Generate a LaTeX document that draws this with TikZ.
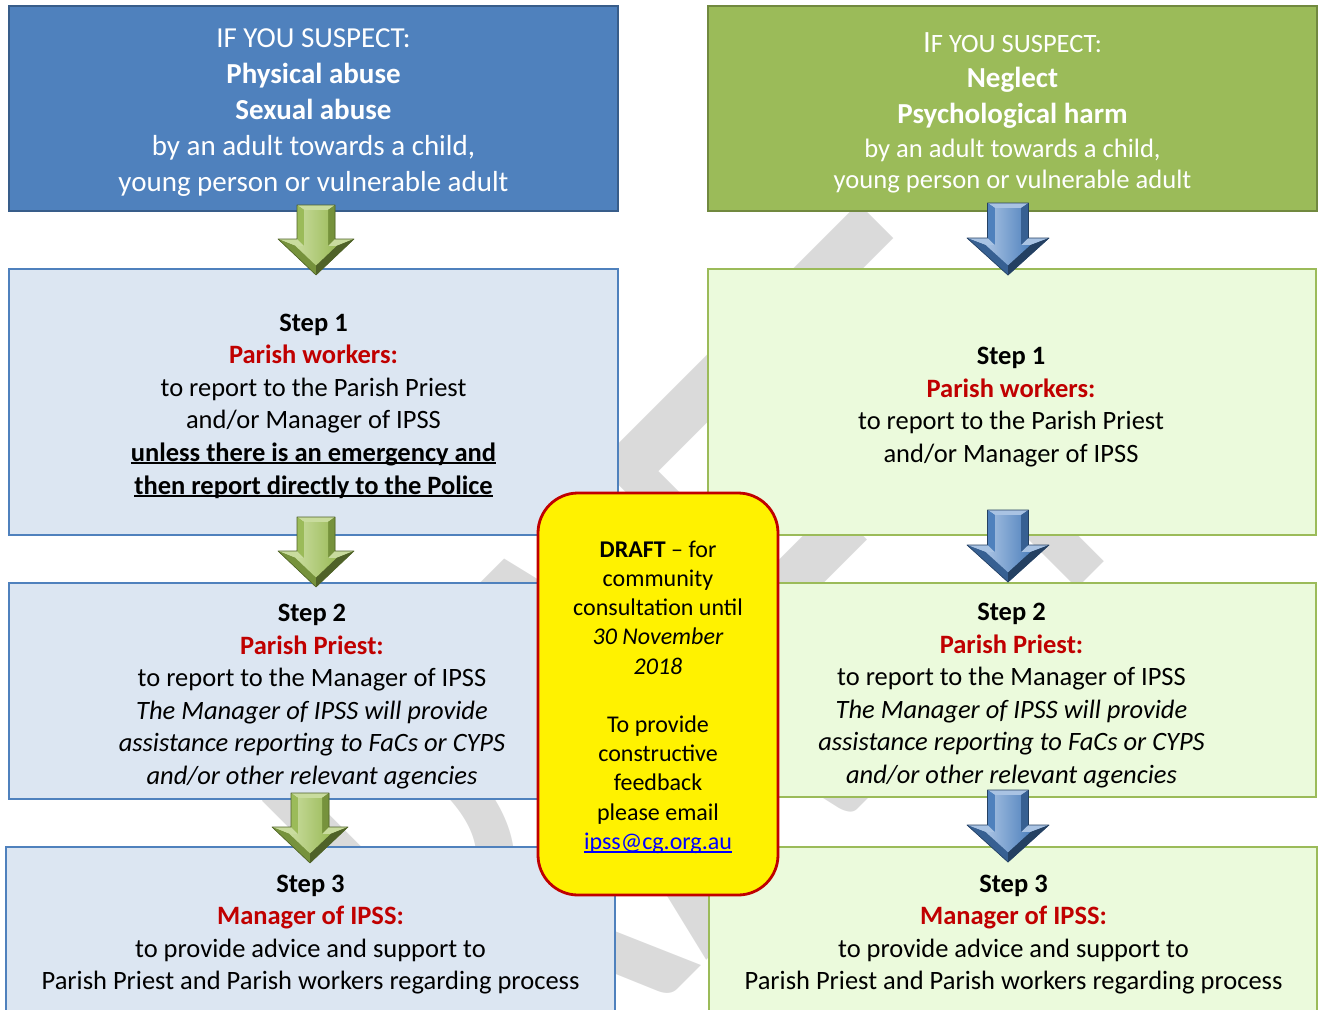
\documentclass[tikz,border=0pt]{standalone}
\usepackage{fontspec}
\setmainfont{Carlito}
\usepackage{graphicx}
\usetikzlibrary{calc}
\definecolor{tbfill}{HTML}{4F81BD}
\definecolor{tbdraw}{HTML}{385D8A}
\definecolor{tgfill}{HTML}{9BBB59}
\definecolor{tgdraw}{HTML}{71893F}
\definecolor{sbfill}{HTML}{DCE6F2}
\definecolor{sbdraw}{HTML}{4F81BD}
\definecolor{sgfill}{HTML}{EBFADC}
\definecolor{sgdraw}{HTML}{9BBB59}
\definecolor{stepred}{HTML}{C00000}
\definecolor{linkblue}{HTML}{0000FF}
\definecolor{wmgray}{RGB}{218,218,218}
\definecolor{gL}{HTML}{C9DC9E}
\definecolor{gM}{HTML}{9BBB59}
\definecolor{gD}{HTML}{76923C}
\definecolor{gDD}{HTML}{4F6228}
\definecolor{bL}{HTML}{A9C3E3}
\definecolor{bM}{HTML}{4F81BD}
\definecolor{bD}{HTML}{376092}
\definecolor{bDD}{HTML}{244062}
\newcommand\myul[2][0.11em]{\setbox0\hbox{#2}\rlap{\rule[-#1]{\wd0}{0.07em}}\box0}
\newcommand\blockarrowbody[4]{%
  \fill[#3] (-19,0) -- (19,0) -- (19,34) -- (38,34) -- (0,70) -- (-38,34) -- (-19,34) -- cycle;
  \fill[#1] (-19,0) -- (19,0) -- (12,5) -- (-12,5) -- cycle;
  \fill[#2] (-19,0) -- (-12,5) -- (-12,41) -- (-19,34) -- cycle;
  \fill[#3] (19,0) -- (19,34) -- (12,41) -- (12,5) -- cycle;
  \fill[#1] (-19,34) -- (-12,41) -- (-20.4,41) -- (-38,34) -- cycle;
  \fill[#1] (19,34) -- (38,34) -- (20.4,41) -- (12,41) -- cycle;
  \fill[#3] (-38,34) -- (-20.4,41) -- (0,60.4) -- (0,70) -- cycle;
  \fill[#4] (38,34) -- (0,70) -- (0,60.4) -- (20.4,41) -- cycle;
  \shade[left color=#1, right color=#2] (-12,5) -- (12,5) -- (12,41) -- (20.4,41) -- (0,60.4) -- (-20.4,41) -- (-12,41) -- cycle;
  \draw[#4, line width=0.6pt, line join=round] (-19,0) -- (19,0) -- (19,34) -- (38,34) -- (0,70) -- (-38,34) -- (-19,34) -- cycle;
}
\begin{document}
\begin{tikzpicture}[x=1pt,y=-1pt,
  box/.style={inner sep=0pt, outer sep=0pt, line width=2pt},
  titleblue/.style={box, fill=tbfill, draw=tbdraw, line width=2.5pt, minimum width=609pt, minimum height=205pt},
  titlegreen/.style={box, fill=tgfill, draw=tgdraw, line width=2.5pt, minimum width=609pt, minimum height=205pt},
  stepblue/.style={box, fill=sbfill, draw=sbdraw},
  stepgreen/.style={box, fill=sgfill, draw=sgdraw},
  draftbox/.style={box, fill=yellow, draw=stepred, line width=2.8pt, rounded corners=40pt, minimum width=240pt, minimum height=402pt},
  titletext/.style={inner sep=0pt, outer sep=0pt, text=white},
  steptext/.style={inner sep=0pt, outer sep=0pt, font=\fontsize{26.5}{32.6}\selectfont},
  drafttext/.style={inner sep=0pt, outer sep=0pt, font=\fontsize{24}{29.2}\selectfont},
  watermark/.style={inner sep=0pt, outer sep=0pt, text=wmgray, font=\fontsize{665}{665}\selectfont},
  greenarrow/.pic={\blockarrowbody{gL}{gM}{gD}{gDD}},
  bluearrow/.pic={\blockarrowbody{bL}{bM}{bD}{bDD}}
]
\useasboundingbox (0,0) rectangle (1319,1009);
\clip (0,0) rectangle (1319,1009);

% watermark
\node[watermark, rotate=45] (wm) at (610,755) {\scalebox{0.64}[1]{DRAFT}};

% boxes
\node[titleblue] (tl) at (313.5,108.5) {};
\node[titlegreen] (tr) at (1012.5,108.5) {};
\node[stepblue, minimum width=609pt, minimum height=266pt] (sl1) at (313.5,402) {};
\node[stepgreen, minimum width=608pt, minimum height=266pt] (sr1) at (1012,402) {};
\node[stepblue, minimum width=609pt, minimum height=216pt] (sl2) at (313.5,691) {};
\node[stepgreen, minimum width=608pt, minimum height=214pt] (sr2) at (1012,690) {};
\node[stepblue, minimum width=609pt, minimum height=183pt] (sl3) at (310.5,938.5) {};
\node[stepgreen, minimum width=608pt, minimum height=183pt] (sr3) at (1013,938.5) {};

% texts
\node[titletext, font=\fontsize{29}{36}\selectfont] (tlt) at (313.5,111.8) {\begin{tabular}{@{}c@{}}
IF YOU SUSPECT:\\
\textbf{Physical abuse}\\
\textbf{Sexual abuse}\\
by an adult towards a child,\\
young person or vulnerable adult
\end{tabular}};
\node[titletext, font=\fontsize{26.6}{31}\selectfont] (trt) at (1012.5,114.5) {\begin{tabular}{@{}c@{}}
{\fontsize{31}{31}\selectfont I}{\fontsize{26.5}{31}\selectfont F YOU SUSPECT:}\\[4pt]
{\bfseries\fontsize{29}{31}\selectfont Neglect}\\[5pt]
{\bfseries\fontsize{29}{31}\selectfont Psychological harm}\\[3pt]
by an adult towards a child,\\
young person or vulnerable adult
\end{tabular}};
\node[steptext] (sl1t) at (313.5,406) {\begin{tabular}{@{}c@{}}
\textbf{Step 1}\\
\textcolor{stepred}{\textbf{Parish workers:}}\\
to report to the Parish Priest\\
and/or Manager of IPSS\\
\textbf{\myul{unless there is an emergency and}}\\
\textbf{\myul{then report directly to the Police}}
\end{tabular}};
\node[steptext] (sr1t) at (1011,406.8) {\begin{tabular}{@{}c@{}}
\textbf{Step 1}\\
\textcolor{stepred}{\textbf{Parish workers:}}\\
to report to the Parish Priest\\
and/or Manager of IPSS
\end{tabular}};
\node[steptext] (sl2t) at (312,696.5) {\begin{tabular}{@{}c@{}}
\textbf{Step 2}\\
\textcolor{stepred}{\textbf{Parish Priest:}}\\
to report to the Manager of IPSS\\
\textit{The Manager of IPSS will provide}\\
\textit{assistance reporting to FaCs or CYPS}\\
\textit{and/or other relevant agencies}
\end{tabular}};
\node[steptext] (sr2t) at (1011.5,695.5) {\begin{tabular}{@{}c@{}}
\textbf{Step 2}\\
\textcolor{stepred}{\textbf{Parish Priest:}}\\
to report to the Manager of IPSS\\
\textit{The Manager of IPSS will provide}\\
\textit{assistance reporting to FaCs or CYPS}\\
\textit{and/or other relevant agencies}
\end{tabular}};
\node[steptext] (sl3t) at (310.5,934.4) {\begin{tabular}{@{}c@{}}
\textbf{Step 3}\\
\textcolor{stepred}{\textbf{Manager of IPSS:}}\\
to provide advice and support to\\
Parish Priest and Parish workers regarding process
\end{tabular}};
\node[steptext] (sr3t) at (1013.5,934.4) {\begin{tabular}{@{}c@{}}
\textbf{Step 3}\\
\textcolor{stepred}{\textbf{Manager of IPSS:}}\\
to provide advice and support to\\
Parish Priest and Parish workers regarding process
\end{tabular}};

% block arrows
\pic at ($(tl.south)+(2.5,-6)$) {greenarrow};
\pic at ($(sl1.south)+(2.5,-18)$) {greenarrow};
\pic at ($(sl2.south)+(-3.5,-6)$) {greenarrow};
\pic[xscale=1.08, yscale=1.03] at ($(tr.south)+(-4.5,-8)$) {bluearrow};
\pic[xscale=1.08, yscale=1.03] at ($(sr1.south)+(-4,-25)$) {bluearrow};
\pic[xscale=1.08, yscale=1.03] at ($(sr2.south)+(-4,-7)$) {bluearrow};

% draft note
\node[draftbox] (note) at (658,694) {};
\node[drafttext] (notet) at (658,697.5) {\begin{tabular}{@{}c@{}}
\textbf{DRAFT} -- for\\
community\\
consultation until\\
\textit{30 November}\\
\textit{2018}\\
\\
To provide\\
constructive\\
feedback\\
please email\\
\textcolor{linkblue}{\myul[0.15em]{ipss@cg.org.au}}
\end{tabular}};
\end{tikzpicture}
\end{document}
